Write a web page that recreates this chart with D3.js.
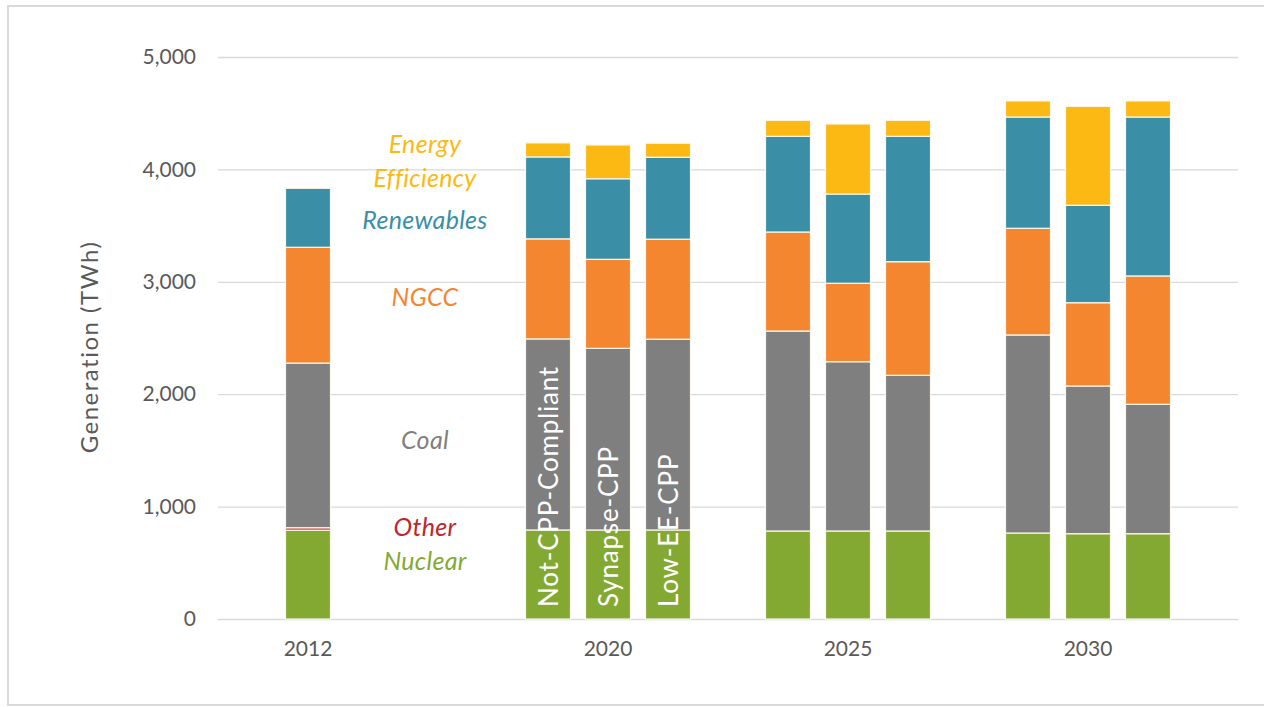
<!DOCTYPE html>
<html>
<head>
<meta charset="utf-8">
<script src="https://cdn.jsdelivr.net/npm/d3@7"></script>
<style>
  body { margin: 0; background: #fff; }
  svg { display: block; font-family: Lato, 'Open Sans', sans-serif; }
</style>
</head>
<body>
<div class="d3-wrapper"></div>
<script>
// Generation mix by scenario (TWh)
const barYears = ['2012', '2020', '2020', '2020', '2025', '2025', '2025', '2030', '2030', '2030'];
const barScenarios = ['Historical', 'Not-CPP-Compliant', 'Synapse-CPP', 'Low-EE-CPP',
  'Not-CPP-Compliant', 'Synapse-CPP', 'Low-EE-CPP',
  'Not-CPP-Compliant', 'Synapse-CPP', 'Low-EE-CPP'];
const yearLabels = ['2012', '2020', '2025', '2030'];

const nuclear = [790, 792, 792, 792, 783, 783, 783, 765, 759, 759];
const other = [22, 0, 0, 0, 0, 0, 0, 0, 0, 0];
const coal = [1465, 1700, 1616, 1697, 1779, 1506, 1385, 1762, 1314, 1151];
const ngcc = [1030, 890, 792, 890, 881, 698, 1011, 949, 741, 1142];
const renewables = [525, 729, 717, 729, 851, 794, 1115, 990, 867, 1414];
const efficiency = [0, 125, 300, 125, 143, 623, 143, 143, 880, 143];

const seriesNames = ['Nuclear', 'Other', 'Coal', 'NGCC', 'Renewables', 'Energy Efficiency'];
const seriesColors = ['#84a933', '#c0272d', '#7f7f7f', '#f58630', '#3a8fa6', '#fdb913'];
const yTicks = [0, 1000, 2000, 3000, 4000, 5000];

const OUTER_WIDTH = 1264, OUTER_HEIGHT = 707;
const PLOT = { left: 218, right: 1238, top: 57, bottom: 619 };

const barIds = barYears.map((y, i) => y + ' ' + barScenarios[i]);
// empty slots keep the gaps between the year groups
const slots = ['gap0', barIds[0], 'gap1', 'gap2', 'gap3',
  barIds[1], barIds[2], barIds[3], 'gap4',
  barIds[4], barIds[5], barIds[6], 'gap5',
  barIds[7], barIds[8], barIds[9], 'gap6'];

const rows = barIds.map((id, i) => ({
  id: id,
  'Nuclear': nuclear[i],
  'Other': other[i],
  'Coal': coal[i],
  'NGCC': ngcc[i],
  'Renewables': renewables[i],
  'Energy Efficiency': efficiency[i]
}));

const xScale = d3.scaleBand()
  .domain(slots)
  .range([PLOT.left, PLOT.right])
  .paddingInner(0.25)
  .paddingOuter(0.125);

const yScale = d3.scaleLinear()
  .domain([0, 5000])
  .range([PLOT.bottom, PLOT.top]);

const color = d3.scaleOrdinal().domain(seriesNames).range(seriesColors);

const svg = d3.select('.d3-wrapper').append('svg')
  .attr('width', OUTER_WIDTH)
  .attr('height', OUTER_HEIGHT);

// outer frame
svg.append('rect')
  .attr('x', 8)
  .attr('y', 6)
  .attr('width', OUTER_WIDTH + 10)
  .attr('height', 699)
  .attr('fill', 'none')
  .attr('stroke', '#d9d9d9')
  .attr('stroke-width', 2);

const yAxis = d3.axisLeft(yScale)
  .tickValues(yTicks)
  .tickFormat(d3.format(','))
  .tickSizeInner(-(PLOT.right - PLOT.left))
  .tickSizeOuter(0)
  .tickPadding(22);

svg.append('g')
  .attr('id', 'y-axis')
  .attr('transform', `translate(${PLOT.left}, 0)`)
  .call(yAxis)
  .call(g => g.select('.domain').remove())
  .call(g => g.selectAll('.tick line').attr('stroke', '#d9d9d9').attr('stroke-width', 1.3))
  .call(g => g.selectAll('.tick text')
    .attr('fill', '#595959')
    .style('font-size', '21px')
    .style('font-family', 'Lato, sans-serif'));

const stacked = d3.stack().keys(seriesNames)(rows);

svg.append('g')
  .selectAll('g')
  .data(stacked)
  .join('g')
  .attr('fill', d => color(d.key))
  .selectAll('rect')
  .data(d => d.filter(p => p[1] - p[0] > 0))
  .join('rect')
  .attr('x', d => xScale(d.data.id))
  .attr('y', d => yScale(d[1]))
  .attr('width', xScale.bandwidth())
  .attr('height', d => yScale(d[0]) - yScale(d[1]))
  .attr('stroke', '#fbf7ea')
  .attr('stroke-width', 1.2);

// year labels under each group
const yearCenter = yr => d3.mean(barIds.filter((id, i) => barYears[i] === yr),
  id => xScale(id) + xScale.bandwidth() / 2);

svg.append('g')
  .selectAll('text')
  .data(yearLabels)
  .join('text')
  .attr('x', d => yearCenter(d))
  .attr('y', PLOT.bottom + 37)
  .attr('text-anchor', 'middle')
  .attr('fill', '#595959')
  .style('font-size', '21px')
  .text(d => d);

// scenario names written inside the 2020 bars
svg.append('g')
  .selectAll('text')
  .data(barIds.filter((id, i) => barYears[i] === '2020'))
  .join('text')
  .attr('transform', d => `translate(${xScale(d) + xScale.bandwidth() / 2 + 1}, ${PLOT.bottom - 12}) rotate(-90)`)
  .attr('dy', '0.35em')
  .attr('fill', '#fff')
  .style('font-size', '26px')
  .style('letter-spacing', '0.8px')
  .text(d => d.replace('2020 ', ''));

// series labels in the gap between 2012 and 2020
const seriesLabels = [
  { text: 'Energy', key: 'Energy Efficiency', y: 144 },
  { text: 'Efficiency', key: 'Energy Efficiency', y: 178 },
  { text: 'Renewables', key: 'Renewables', y: 220 },
  { text: 'NGCC', key: 'NGCC', y: 297 },
  { text: 'Coal', key: 'Coal', y: 440 },
  { text: 'Other', key: 'Other', y: 527 },
  { text: 'Nuclear', key: 'Nuclear', y: 561 }
];

svg.append('g')
  .selectAll('text')
  .data(seriesLabels)
  .join('text')
  .attr('x', 425)
  .attr('y', d => d.y)
  .attr('dy', '0.35em')
  .attr('text-anchor', 'middle')
  .attr('fill', d => color(d.key))
  .style('font-size', '25px')
  .style('letter-spacing', '0.3px')
  .style('font-style', 'italic')
  .text(d => d.text);

svg.append('text')
  .attr('transform', `translate(90, 347) rotate(-90)`)
  .attr('text-anchor', 'middle')
  .attr('dy', '0.35em')
  .attr('fill', '#595959')
  .style('font-size', '24px')
  .style('letter-spacing', '1.5px')
  .text('Generation (TWh)');
</script>
</body>
</html>
